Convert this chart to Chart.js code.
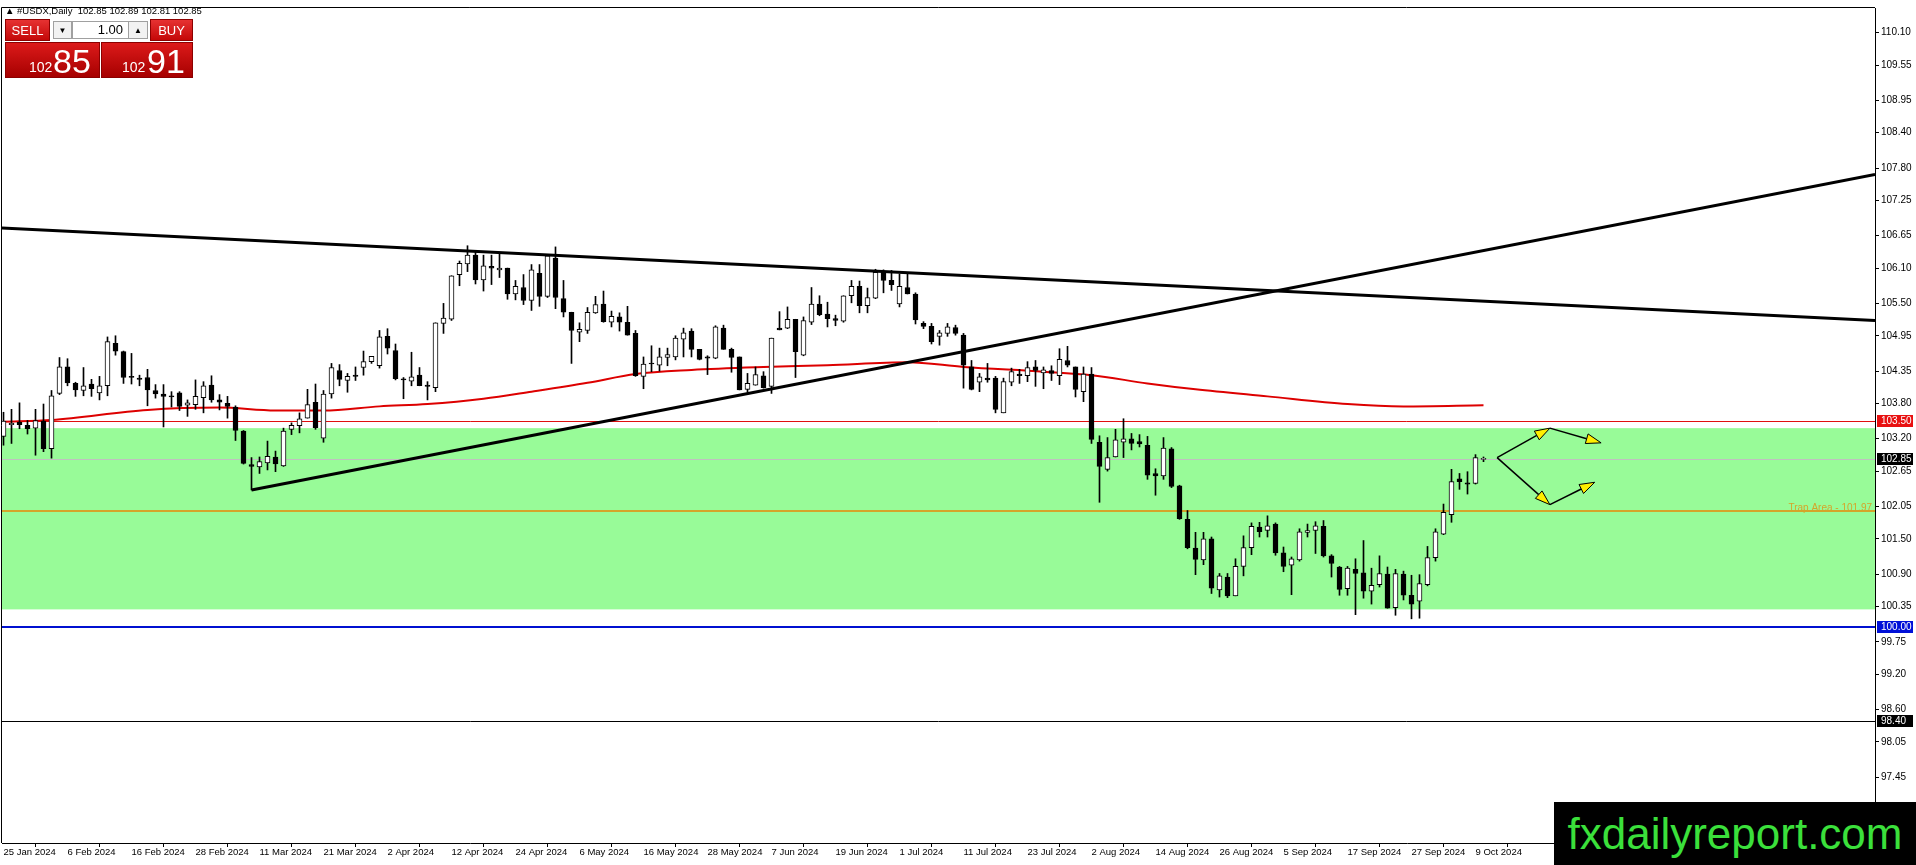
<!DOCTYPE html>
<html>
<head>
<meta charset="utf-8">
<script src="https://cdn.jsdelivr.net/npm/chart.js@4.4.1/dist/chart.umd.min.js"></script>
<style>
body { margin: 0; background: #fff; font-family: "Liberation Sans", Arial, sans-serif; }
#wrap { position: relative; width: 1916px; height: 865px; overflow: hidden; }
#chart { position: absolute; left: 0; top: 0; }
.hdr { position: absolute; left: 5px; top: 5px; font-size: 9.5px; color: #000; white-space: pre; }
.btn { position: absolute; top: 19px; height: 20px; background: linear-gradient(#e63232, #c40808); color: #fff;
       font-size: 13px; border: 1px solid #8c0000; display: flex; align-items: center; justify-content: center; }
.spin { position: absolute; top: 21px; height: 16px; background: #f2f2f2; border: 1px solid #a0a0a0;
        font-size: 8px; display: flex; align-items: center; justify-content: center; color: #000; }
.lot { position: absolute; top: 21px; height: 16px; background: #fff; border: 1px solid #a0a0a0; font-size: 13px;
       text-align: right; line-height: 16px; padding-right: 5px; box-sizing: content-box; }
.price { position: absolute; top: 42px; height: 34px; background: linear-gradient(#dc1a1a, #a60000);
         border: 1px solid #8c0000; color: #fff; white-space: nowrap; }
.price .s { position: absolute; bottom: 2px; font-size: 14px; }
.price .b { position: absolute; bottom: -4px; font-size: 34px; }
.logo { position: absolute; left: 1554px; top: 802px; width: 362px; height: 63px; background: #000;
        color: #3be03b; font-size: 44px; line-height: 63px; text-align: center; }
</style>
</head>
<body>
<div id="wrap">
  <canvas id="chart" width="1916" height="865"></canvas>
  <div class="hdr">▲ #USDX,Daily  102.85 102.89 102.81 102.85</div>
  <div class="btn" style="left:5px;width:43px;">SELL</div>
  <div class="spin" style="left:53px;width:17px;">▼</div>
  <div class="lot" style="left:72px;width:50px;">1.00</div>
  <div class="spin" style="left:128px;width:18px;">▲</div>
  <div class="btn" style="left:150px;width:41px;">BUY</div>
  <div class="price" style="left:5px;width:93px;"><span class="s" style="left:23px;">102</span><span class="b" style="left:47px;">85</span></div>
  <div class="price" style="left:101px;width:90px;"><span class="s" style="left:20px;">102</span><span class="b" style="left:45px;">91</span></div>
  <div class="logo">fxdailyreport.com</div>
</div>
<script>
// x-axis labels, one every 8 daily bars starting at bar 0
const dateLabels = ['25 Jan 2024','6 Feb 2024','16 Feb 2024','28 Feb 2024','11 Mar 2024','21 Mar 2024',
  '2 Apr 2024','12 Apr 2024','24 Apr 2024','6 May 2024','16 May 2024','28 May 2024','7 Jun 2024',
  '19 Jun 2024','1 Jul 2024','11 Jul 2024','23 Jul 2024','2 Aug 2024','14 Aug 2024','26 Aug 2024',
  '5 Sep 2024','17 Sep 2024','27 Sep 2024','9 Oct 2024'];

// daily candles, bar 0 = 25 Jan 2024
const openP = [103.24,103.44,103.48,103.43,103.38,103.50,103.03,103.97,104.42,104.14,
  104.02,104.13,103.98,104.10,104.82,104.68,104.26,104.23,104.24,104.02,
  103.96,103.93,103.98,103.77,103.78,103.90,104.11,103.86,103.80,103.74,
  103.33,102.76,102.72,102.79,102.89,102.74,103.36,103.42,103.55,103.82,
  103.21,103.96,104.36,104.19,104.28,104.41,104.51,104.44,104.94,104.70,
  104.22,104.18,104.28,104.11,104.07,105.16,105.23,105.99,106.17,106.32,
  105.90,106.13,106.07,106.10,105.66,105.77,105.55,106.01,105.62,106.27,
  105.58,105.35,105.01,105.04,105.34,105.49,105.18,105.27,105.18,104.99,
  104.26,104.48,104.45,104.58,104.59,104.89,105.03,104.72,104.59,104.57,
  105.08,104.72,104.59,104.04,104.11,104.27,104.09,105.08,105.08,105.23,
  104.62,105.18,105.49,105.32,105.24,105.20,105.63,105.79,105.46,105.59,
  106.03,105.89,105.49,105.77,105.66,105.16,105.11,104.94,104.99,105.09,
  104.96,104.42,104.16,104.23,104.23,103.64,104.16,104.30,104.27,104.42,
  104.32,104.36,104.27,104.53,104.42,104.00,104.30,103.14,102.68,102.89,
  103.14,103.20,103.15,103.09,102.61,102.57,103.03,102.40,101.83,101.34,
  101.14,101.50,100.63,100.85,100.53,101.03,101.35,101.70,101.64,101.75,
  101.26,101.05,101.14,101.61,101.64,101.71,101.21,101.02,100.65,100.98,
  100.92,100.61,100.72,100.90,100.33,100.90,100.54,100.44,100.72,101.18,
  101.58,101.91,102.52,102.45,102.44,102.85];
const highP = [103.65,103.70,103.81,103.51,103.70,103.79,104.02,104.58,104.56,104.16,
  104.41,104.21,104.26,104.93,104.95,104.69,104.65,104.28,104.38,104.12,
  104.12,104.00,104.00,103.86,104.20,104.17,104.27,103.95,103.92,103.76,
  103.34,102.88,102.89,103.16,102.99,103.38,103.47,103.64,104.04,104.13,
  104.02,104.48,104.46,104.31,104.42,104.69,104.60,105.04,105.07,104.81,
  104.24,104.67,104.41,104.17,105.17,105.50,105.97,106.22,106.48,106.40,
  106.32,106.32,106.34,106.10,105.89,105.99,106.16,106.16,106.32,106.46,
  105.89,105.35,105.17,105.43,105.62,105.71,105.37,105.34,105.45,105.04,
  104.59,104.78,104.74,104.74,104.95,105.08,105.07,104.72,104.61,105.12,
  105.13,104.74,104.59,104.31,104.42,104.34,104.91,105.36,105.44,105.23,
  105.27,105.77,105.63,105.52,105.30,105.63,105.89,105.88,105.76,106.08,
  106.07,106.06,106.00,106.02,105.68,105.19,105.16,105.04,105.16,105.13,
  104.99,104.53,104.31,104.48,104.26,104.23,104.40,104.38,104.51,104.53,
  104.42,104.44,104.73,104.77,104.42,104.42,104.41,103.25,103.22,103.36,
  103.54,103.29,103.27,103.24,102.69,103.22,103.05,102.41,101.98,101.61,
  101.61,101.53,100.91,100.91,101.16,101.55,101.77,101.78,101.89,101.77,
  101.36,101.19,101.67,101.75,101.79,101.81,101.23,101.03,101.03,101.16,
  101.47,101.00,101.21,101.02,100.98,100.95,100.88,100.89,101.37,101.67,
  102.09,102.68,102.61,102.64,102.93,102.89];
const lowP = [103.09,103.12,103.37,103.28,102.92,102.98,102.87,103.95,104.10,103.92,
  103.93,103.92,103.86,103.93,104.62,104.14,104.13,104.10,103.76,103.89,
  103.40,103.74,103.68,103.58,103.70,103.64,103.82,103.69,103.55,103.17,
  102.77,102.33,102.61,102.67,102.64,102.73,103.27,103.30,103.55,103.36,
  103.14,103.89,104.10,103.99,104.19,104.28,104.48,104.40,104.64,104.20,
  103.88,104.10,104.10,103.86,104.00,104.99,105.21,105.80,106.04,105.83,
  105.71,105.82,105.94,105.57,105.56,105.48,105.38,105.45,105.60,105.41,
  105.27,104.48,104.85,104.99,105.33,105.18,105.10,105.03,104.96,104.26,
  104.05,104.34,104.35,104.44,104.54,104.59,104.59,104.54,104.29,104.56,
  104.72,104.33,104.03,103.99,104.11,104.06,103.97,105.05,105.07,104.24,
  104.61,105.14,105.29,105.10,105.12,105.18,105.51,105.34,105.34,105.58,
  105.68,105.72,105.44,105.66,105.15,105.07,104.81,104.79,104.94,104.96,
  104.06,104.03,104.00,104.16,103.64,103.64,104.10,104.14,104.17,104.09,
  104.05,104.19,104.12,104.42,103.91,103.83,103.12,102.12,102.65,102.89,
  102.88,103.01,103.06,102.51,102.24,102.51,102.37,101.83,101.33,100.89,
  101.06,100.57,100.51,100.50,100.53,100.87,101.23,101.53,101.53,101.22,
  100.94,100.55,101.12,101.53,101.25,101.19,100.85,100.54,100.54,100.21,
  100.49,100.39,100.68,100.32,100.20,100.46,100.14,100.15,100.70,101.12,
  101.57,101.78,102.34,102.26,102.43,102.81];
const closeP = [103.50,103.46,103.44,103.37,103.51,103.03,103.93,104.42,104.15,104.03,
  104.10,104.05,104.10,104.85,104.69,104.24,104.24,104.21,104.03,103.96,
  103.92,103.91,103.75,103.81,103.92,104.10,103.86,103.82,103.75,103.34,
  102.78,102.73,102.81,102.90,102.77,103.33,103.43,103.54,103.78,103.39,
  103.96,104.41,104.21,104.26,104.26,104.51,104.60,104.93,104.74,104.22,
  104.20,104.25,104.10,104.09,105.17,105.25,105.97,106.18,106.32,105.90,
  106.14,106.10,106.10,105.66,105.79,105.55,106.07,105.62,106.31,105.60,
  105.35,105.04,105.06,105.35,105.48,105.19,105.28,105.18,104.96,104.27,
  104.47,104.47,104.59,104.63,104.91,105.00,104.72,104.55,104.57,105.10,
  104.72,104.58,104.03,104.14,104.29,104.07,104.91,105.05,105.23,104.68,
  105.21,105.49,105.31,105.24,105.21,105.63,105.79,105.46,105.60,106.03,
  105.89,105.82,105.79,105.66,105.22,105.11,104.85,105.00,105.10,104.99,
  104.45,104.04,104.25,104.20,103.70,104.17,104.34,104.27,104.41,104.36,
  104.37,104.31,104.55,104.45,104.04,104.30,103.19,102.73,102.88,103.18,
  103.20,103.12,103.11,102.58,102.57,103.04,102.39,101.84,101.35,101.15,
  101.50,100.66,100.87,100.53,101.03,101.35,101.71,101.62,101.72,101.26,
  101.03,101.16,101.62,101.64,101.72,101.21,101.08,100.64,101.00,100.91,
  100.61,100.71,100.91,100.32,100.91,100.54,100.39,100.74,101.18,101.62,
  101.95,102.47,102.47,102.43,102.88,102.85];

// red moving average, read at a few bars
const maBars   = [0, 6, 18, 27, 34, 40, 47, 53, 60, 66, 73, 79, 86, 95, 103, 113, 120, 130, 136, 143, 149, 158, 168, 175, 185];
const maValues = [103.49, 103.52, 103.69, 103.73, 103.68, 103.68, 103.75, 103.79, 103.88, 104.00, 104.15, 104.30,
  104.37, 104.42, 104.45, 104.50, 104.42, 104.34, 104.28, 104.14, 104.04, 103.92, 103.79, 103.75, 103.77];

// trend lines [bar, price]
const trendDown = [[-0.19, 106.78], [233.94, 105.21]];
const trendUp   = [[31, 102.33], [233.94, 107.69]];

// horizontal levels and shaded zone
const zone = [100.30, 103.38];
const resistance = 103.50, bid = 102.85, trap = 101.97, support = 100.00, lowLevel = 98.40;

// drawn arrows [fromBar, fromPrice, toBar, toPrice]
const arrowPaths = [
  [186.7, 102.88, 193.3, 103.38], [193.3, 103.38, 199.7, 103.13],
  [186.7, 102.88, 193.3, 102.08], [193.3, 102.08, 198.9, 102.46]
];

// price axis tick labels
const yTicks = [110.10,109.55,108.95,108.40,107.80,107.25,106.65,106.10,105.50,104.95,104.35,103.80,
  103.20,102.65,102.05,101.50,100.90,100.35,99.75,99.20,98.60,98.05,97.45];

Chart.defaults.font.family = '"Liberation Sans", Arial, sans-serif';
Chart.defaults.font.size = 10;
Chart.defaults.color = '#000';

const up = openP.map((o, i) => closeP[i] >= o);

function hline(ctx, area, py, color, w) {
  ctx.strokeStyle = color;
  ctx.lineWidth = w;
  ctx.beginPath();
  const yy = w % 2 ? Math.round(py) + 0.5 : Math.round(py);
  ctx.moveTo(area.left, yy);
  ctx.lineTo(area.right, yy);
  ctx.stroke();
}

const overlay = {
  id: 'overlay',
  beforeDatasetsDraw(c) {
    const { ctx, chartArea: a, scales: { y } } = c;
    ctx.save();
    ctx.fillStyle = '#98fb98';
    const t = y.getPixelForValue(zone[1]), b = y.getPixelForValue(zone[0]);
    ctx.fillRect(a.left, t, a.right - a.left, b - t);
    hline(ctx, a, y.getPixelForValue(resistance), '#e01010', 1);
    hline(ctx, a, y.getPixelForValue(bid), '#c0c0c0', 1);
    hline(ctx, a, y.getPixelForValue(trap), '#d4a52a', 2);
    hline(ctx, a, y.getPixelForValue(support), '#0010d0', 2);
    hline(ctx, a, y.getPixelForValue(lowLevel), '#000', 1);
    ctx.fillStyle = '#d4a52a';
    ctx.font = '10px "Liberation Sans", Arial, sans-serif';
    ctx.textAlign = 'right';
    ctx.textBaseline = 'bottom';
    ctx.fillText('Trap Area - 101.97', a.right - 3, y.getPixelForValue(trap) + 2);
    ctx.restore();
  },
  afterDatasetsDraw(c) {
    const { ctx, scales: { x, y } } = c;
    ctx.save();
    arrowPaths.forEach(p => {
      const x0 = x.getPixelForValue(p[0]), y0 = y.getPixelForValue(p[1]);
      const x1 = x.getPixelForValue(p[2]), y1 = y.getPixelForValue(p[3]);
      const ang = Math.atan2(y1 - y0, x1 - x0);
      const len = 15, half = 5;
      const bx = x1 - len * Math.cos(ang), by = y1 - len * Math.sin(ang);
      ctx.strokeStyle = '#000';
      ctx.lineWidth = 1.5;
      ctx.beginPath(); ctx.moveTo(x0, y0); ctx.lineTo(bx, by); ctx.stroke();
      ctx.beginPath();
      ctx.moveTo(x1, y1);
      ctx.lineTo(bx + half * Math.sin(ang), by - half * Math.cos(ang));
      ctx.lineTo(bx - half * Math.sin(ang), by + half * Math.cos(ang));
      ctx.closePath();
      ctx.fillStyle = '#ffee00';
      ctx.fill();
      ctx.lineWidth = 1;
      ctx.stroke();
    });
    ctx.restore();
  },
  afterDraw(c) {
    const { ctx, chartArea: a, scales: { y } } = c;
    ctx.save();
    ctx.strokeStyle = '#000';
    ctx.lineWidth = 1;
    ctx.beginPath();
    ctx.moveTo(a.left - 0.5, a.bottom);
    ctx.lineTo(a.left - 0.5, a.top - 0.5);
    ctx.lineTo(a.right, a.top - 0.5);
    ctx.stroke();
    const boxes = [[resistance, '#e81010'], [bid, '#000'], [support, '#0010d8'], [lowLevel, '#000']];
    ctx.font = '10px "Liberation Sans", Arial, sans-serif';
    ctx.textAlign = 'left';
    ctx.textBaseline = 'middle';
    boxes.forEach(([v, col]) => {
      const py = Math.round(y.getPixelForValue(v));
      ctx.fillStyle = col;
      ctx.fillRect(a.right + 2, py - 6, 36, 12);
      ctx.fillStyle = '#fff';
      ctx.fillText(v.toFixed(2), a.right + 6, py + 0.5);
    });
    ctx.restore();
  }
};

new Chart(document.getElementById('chart'), {
  type: 'bar',
  data: {
    datasets: [
      {
        type: 'line', order: -1,
        data: trendDown.map(p => ({ x: p[0], y: p[1] })),
        borderColor: '#000', borderWidth: 3, pointRadius: 0
      },
      {
        type: 'line', order: -1,
        data: trendUp.map(p => ({ x: p[0], y: p[1] })),
        borderColor: '#000', borderWidth: 3, pointRadius: 0
      },
      {
        order: 0, grouped: false,
        data: openP.map((o, i) => ({ x: i, y: [Math.min(o, closeP[i]), Math.max(o, closeP[i])] })),
        backgroundColor: up.map(u => u ? '#fff' : '#000'),
        borderColor: '#000', borderWidth: 1, borderSkipped: false,
        barThickness: 5, minBarLength: 1
      },
      {
        order: 1, grouped: false,
        data: lowP.map((l, i) => ({ x: i, y: [l, highP[i]] })),
        backgroundColor: '#000', borderWidth: 0, barThickness: 1
      },
      {
        type: 'line', order: 2,
        data: maBars.map((b, i) => ({ x: b, y: maValues[i] })),
        borderColor: '#dd0000', borderWidth: 2, pointRadius: 0, cubicInterpolationMode: 'monotone'
      }
    ]
  },
  options: {
    responsive: false,
    animation: false,
    devicePixelRatio: 1,
    layout: { padding: { left: 2, top: 2, right: 0, bottom: 0 } },
    plugins: { legend: { display: false }, tooltip: { enabled: false } },
    scales: {
      x: {
        type: 'linear', offset: false, min: -0.1875, max: 233.9375,
        afterFit: s => { s.height = 22; },
        afterBuildTicks: s => { s.ticks = dateLabels.map((_, i) => ({ value: i * 8 })); },
        ticks: {
          autoSkip: false, maxRotation: 0, minRotation: 0, align: 'start', padding: 0,
          font: { size: 9.5 },
          callback: (v, i) => dateLabels[i]
        },
        grid: { drawOnChartArea: false, tickLength: 4, color: '#000' },
        border: { color: '#000', width: 1 }
      },
      y: {
        position: 'right', min: 96.33, max: 110.52,
        afterFit: s => { s.width = 41; },
        afterBuildTicks: s => { s.ticks = yTicks.map(v => ({ value: v })); },
        ticks: { autoSkip: false, padding: 2, callback: v => v.toFixed(2) },
        grid: { drawOnChartArea: false, tickLength: 4, color: '#000' },
        border: { color: '#000', width: 1 }
      }
    }
  },
  plugins: [overlay]
});
</script>
</body>
</html>
